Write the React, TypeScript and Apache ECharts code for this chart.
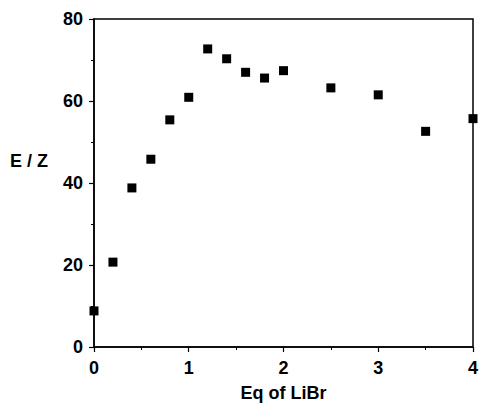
import React, { useEffect, useRef } from "react";
import * as echarts from "echarts";

const eqLiBr = [0, 0.2, 0.4, 0.6, 0.8, 1.0, 1.2, 1.4, 1.6, 1.8, 2.0, 2.5, 3.0, 3.5, 4.0];
const eOverZ = [8.8, 20.7, 38.8, 45.8, 55.4, 60.9, 72.7, 70.3, 67.0, 65.6, 67.4, 63.2, 61.5, 52.6, 55.7];
const xTicks = [0, 1, 2, 3, 4];
const yTicks = [0, 20, 40, 60, 80];

const FONT = "'Liberation Sans', Arial, sans-serif";
const FS = 18;

export default function App() {
  const ref = useRef<HTMLDivElement>(null);
  useEffect(() => {
    if (!ref.current) return;
    const chart = echarts.init(ref.current, null, { renderer: "svg" });
    const data = eqLiBr.map((x, i) => [x, eOverZ[i]]);
    chart.setOption({
      animation: false,
      backgroundColor: "#ffffff",
      grid: {
        left: 94,
        right: 4,
        top: 19,
        bottom: 59,
        show: true,
        borderColor: "#000",
        borderWidth: 1.5,
        backgroundColor: "transparent",
      },
      xAxis: {
        type: "value",
        min: xTicks[0],
        max: xTicks[xTicks.length - 1],
        interval: 1,
        name: "Eq of LiBr",
        nameLocation: "middle",
        nameGap: 37,
        nameTextStyle: { fontFamily: FONT, fontWeight: "bold", fontSize: FS, color: "#000" },
        axisLine: { show: true, onZero: false, lineStyle: { color: "#000", width: 1.5 } },
        axisTick: { show: true, length: 5, lineStyle: { color: "#000", width: 1.2 } },
        minorTick: { show: true, splitNumber: 2, length: 3, lineStyle: { color: "#000", width: 1 } },
        splitLine: { show: false },
        axisLabel: {
          fontFamily: FONT,
          fontWeight: "bold",
          fontSize: FS,
          color: "#000",
          margin: 12,
          formatter: (v: number) => String(v),
        },
      },
      yAxis: {
        type: "value",
        min: yTicks[0],
        max: yTicks[yTicks.length - 1],
        interval: 20,
        axisLine: { show: true, onZero: false, lineStyle: { color: "#000", width: 1.5 } },
        axisTick: { show: true, length: 5, lineStyle: { color: "#000", width: 1.2 } },
        minorTick: { show: true, splitNumber: 2, length: 3, lineStyle: { color: "#000", width: 1 } },
        splitLine: { show: false },
        axisLabel: {
          fontFamily: FONT,
          fontWeight: "bold",
          fontSize: FS,
          color: "#000",
          margin: 11,
        },
      },
      graphic: [
        {
          type: "text",
          left: 10,
          top: 152,
          style: {
            text: "E / Z",
            fontFamily: FONT,
            fontWeight: "bold",
            fontSize: FS,
            fill: "#000",
          },
        },
      ],
      series: [
        {
          type: "scatter",
          data,
          symbol: "rect",
          symbolSize: 9,
          clip: false,
          itemStyle: { color: "#000", opacity: 1 },
        },
      ],
    });
    return () => chart.dispose();
  }, []);
  return <div ref={ref} style={{ width: 481, height: 407, position: "absolute", left: 0, top: 0 }} />;
}
